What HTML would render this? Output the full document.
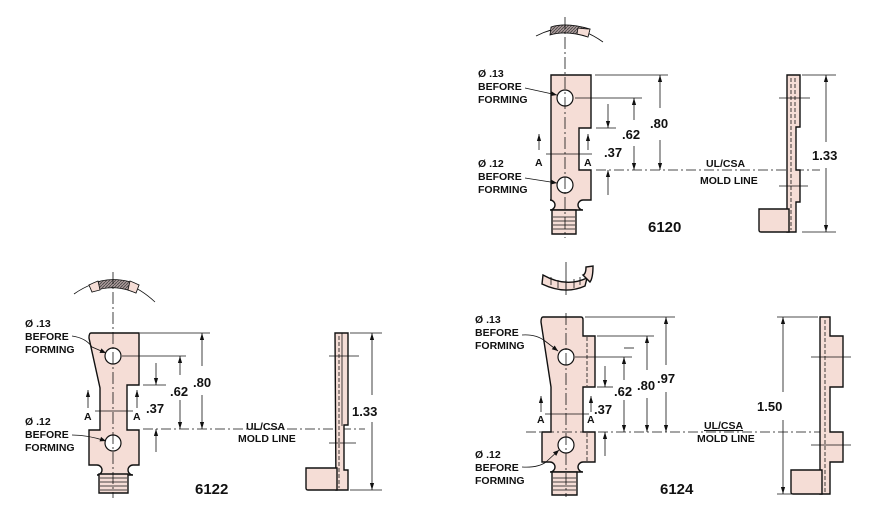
<!DOCTYPE html>
<html><head><meta charset="utf-8"><style>
html,body{margin:0;padding:0;background:#fff}
svg{display:block}
text{font-family:"Liberation Sans",sans-serif;font-weight:bold;fill:#111}
.l{font-size:10.5px}
.d{font-size:13px}
.n{font-size:15px}
.p{fill:#f5ddd6;stroke:#111;stroke-width:1.4}
.t{stroke:#111;stroke-width:0.8;fill:none}
.c{stroke:#111;stroke-width:0.7;fill:none;stroke-dasharray:10 3 2 3}
.h{fill:#fff;stroke:#111;stroke-width:1.2}
</style></head><body>
<svg width="870" height="523" viewBox="0 0 870 523">
<defs>
<marker id="a" viewBox="0 0 10 10" refX="10" refY="5" markerWidth="7" markerHeight="9" orient="auto-start-reverse" markerUnits="userSpaceOnUse"><path d="M0,2 L10,5 L0,8z" fill="#111"/></marker>
<marker id="b" viewBox="0 0 10 10" refX="10" refY="5" markerWidth="12" markerHeight="6" orient="auto" markerUnits="userSpaceOnUse"><path d="M0,1 L10,5 L0,9z" fill="#111"/></marker>
<pattern id="hat" width="3" height="3" patternUnits="userSpaceOnUse"><rect width="3" height="3" fill="#a99"/><path d="M0,3L3,0" stroke="#444" stroke-width="0.8"/></pattern>
</defs>

<!-- ========== 6120 ========== -->
<path d="M536,36 Q570,18 603,42" class="t"/>
<path d="M551,27 Q566,22 590,29 L588,37 Q566,30 550,35z" fill="url(#hat)" stroke="#111" stroke-width="0.8"/>
<path d="M578,28 Q585,29 590,29 L588,37 Q583,35 577,34z" fill="#f5ddd6" stroke="#111" stroke-width="0.8"/>
<path d="M551,75 h40 v53 h-12 v42 h12 v30 h-8 a5,5 0 0 0 0,10 h-33 a5,5 0 0 0 0,-10 h1 z" class="p"/>
<path d="M552,210 h24 v24 h-24z" class="p"/>
<path d="M553,217h22M553,221h22M553,225h22M553,229h22" class="t"/>
<circle cx="565" cy="98" r="8" class="h"/><circle cx="565" cy="185" r="8" class="h"/>
<line x1="565" y1="17" x2="565" y2="238" class="t" stroke-dasharray="12 3 2 3"/>
<line x1="546" y1="154" x2="592" y2="154" class="t"/>
<line x1="595" y1="75" x2="668" y2="75" class="t"/>
<line x1="575" y1="98" x2="642" y2="98" class="t"/>
<line x1="596" y1="128" x2="616" y2="128" class="t"/>
<line x1="596" y1="170" x2="820" y2="170" class="c"/>
<line x1="660" y1="108" x2="660" y2="75" class="t" marker-end="url(#a)"/>
<line x1="660" y1="140" x2="660" y2="170" class="t" marker-end="url(#a)"/>
<line x1="634" y1="120" x2="634" y2="98" class="t" marker-end="url(#a)"/>
<line x1="634" y1="146" x2="634" y2="170" class="t" marker-end="url(#a)"/>
<line x1="608" y1="104" x2="608" y2="128" class="t" marker-end="url(#a)"/>
<line x1="608" y1="195" x2="608" y2="170" class="t" marker-end="url(#a)"/>
<line x1="539" y1="150" x2="539" y2="134" class="t" marker-end="url(#a)"/>
<line x1="588" y1="150" x2="588" y2="134" class="t" marker-end="url(#a)"/>
<text x="535" y="166" class="l">A</text><text x="584" y="166" class="l">A</text>
<text x="650" y="128" class="d">.80</text><text x="622" y="139" class="d">.62</text><text x="604" y="157" class="d">.37</text>
<text x="706" y="167" class="l">UL/CSA</text><text x="700" y="184" class="l">MOLD LINE</text>
<text x="478" y="77" class="l">Ø .13</text><text x="478" y="90" class="l">BEFORE</text><text x="478" y="103" class="l">FORMING</text>
<text x="478" y="167" class="l">Ø .12</text><text x="478" y="180" class="l">BEFORE</text><text x="478" y="193" class="l">FORMING</text>
<line x1="525" y1="88" x2="557" y2="95" class="t" marker-end="url(#b)"/>
<line x1="525" y1="178" x2="557" y2="183" class="t" marker-end="url(#b)"/>
<text x="648" y="232" class="n">6120</text>
<!-- side -->
<path d="M787,75 h13 v52 h-4 v43 h4 v32 h-4 v30 h-9z" class="p"/>
<path d="M759,209 h30 v23 h-28 q-2,0 -2,-2z" class="p"/>
<line x1="791" y1="78" x2="791" y2="230" class="t" stroke-dasharray="4 2"/>
<line x1="795" y1="78" x2="795" y2="125" class="t" stroke-dasharray="4 2"/>
<line x1="779" y1="98" x2="810" y2="98" class="t"/><line x1="779" y1="186" x2="808" y2="186" class="t"/>
<line x1="802" y1="75" x2="836" y2="75" class="t"/><line x1="802" y1="232" x2="836" y2="232" class="t"/>
<line x1="826" y1="142" x2="826" y2="75" class="t" marker-end="url(#a)"/>
<line x1="826" y1="168" x2="826" y2="232" class="t" marker-end="url(#a)"/>
<text x="812" y="160" class="d">1.33</text>

<!-- ========== 6122 ========== -->
<path d="M74,294 Q115,265 155,302" class="t"/>
<path d="M89,285 Q113,274 139,285 L136,293 Q113,283 92,292z" fill="url(#hat)" stroke="#111" stroke-width="0.8"/>
<path d="M89,285 Q93,283 98,281 L100,290 Q96,291 92,292z M130,281 Q135,283 139,285 L136,293 Q131,291 128,290z" fill="#f5ddd6" stroke="#111" stroke-width="0.8"/>
<path d="M91,333 h48 v52 h-12 v45 h12 v35 h-6 a5,5 0 0 0 0,10 h-36 a5,5 0 0 0 0,-10 h-8 v-35 h11 v-42 l-11,-50 q0,-5 2,-5z" class="p"/>
<path d="M99,474 h29 v19 h-29z" class="p"/>
<path d="M100,478h27M100,482h27M100,486h27M100,490h27" class="t"/>
<circle cx="113" cy="356" r="8" class="h"/><circle cx="113" cy="443" r="8" class="h"/>
<line x1="113" y1="272" x2="113" y2="498" class="t" stroke-dasharray="12 3 2 3"/>
<line x1="95" y1="411" x2="133" y2="411" class="t"/>
<line x1="140" y1="333" x2="210" y2="333" class="t"/>
<line x1="122" y1="356" x2="186" y2="356" class="t"/>
<line x1="143" y1="385" x2="166" y2="385" class="t"/>
<line x1="143" y1="429" x2="365" y2="429" class="c"/>
<line x1="202" y1="366" x2="202" y2="333" class="t" marker-end="url(#a)"/>
<line x1="202" y1="395" x2="202" y2="429" class="t" marker-end="url(#a)"/>
<line x1="180" y1="375" x2="180" y2="356" class="t" marker-end="url(#a)"/>
<line x1="180" y1="400" x2="180" y2="429" class="t" marker-end="url(#a)"/>
<line x1="156" y1="363" x2="156" y2="385" class="t" marker-end="url(#a)"/>
<line x1="156" y1="452" x2="156" y2="429" class="t" marker-end="url(#a)"/>
<line x1="88" y1="408" x2="88" y2="390" class="t" marker-end="url(#a)"/>
<line x1="137" y1="408" x2="137" y2="390" class="t" marker-end="url(#a)"/>
<text x="84" y="420" class="l">A</text><text x="133" y="420" class="l">A</text>
<text x="193" y="387" class="d">.80</text><text x="170" y="396" class="d">.62</text><text x="146" y="413" class="d">.37</text>
<text x="246" y="430" class="l">UL/CSA</text><text x="238" y="442" class="l">MOLD LINE</text>
<text x="25" y="327" class="l">Ø .13</text><text x="25" y="340" class="l">BEFORE</text><text x="25" y="353" class="l">FORMING</text>
<text x="25" y="425" class="l">Ø .12</text><text x="25" y="438" class="l">BEFORE</text><text x="25" y="451" class="l">FORMING</text>
<path d="M72,336 Q86,338 92,347 L106,353" class="t" marker-end="url(#b)"/>
<path d="M72,435 Q88,435 106,441" class="t" marker-end="url(#b)"/>
<text x="195" y="494" class="n">6122</text>
<!-- side -->
<path d="M335,333 h13 v92 h-4 v45 h4 v20 h-12z" class="p"/>
<path d="M342,333 v93" class="t"/>
<path d="M306,468 h31 v22 h-29 q-2,0 -2,-2z" class="p"/>
<line x1="339" y1="336" x2="339" y2="488" class="t" stroke-dasharray="4 2"/>
<line x1="329" y1="356" x2="359" y2="356" class="t"/><line x1="329" y1="443" x2="356" y2="443" class="t"/>
<line x1="350" y1="333" x2="382" y2="333" class="t"/><line x1="350" y1="490" x2="382" y2="490" class="t"/>
<line x1="372" y1="395" x2="372" y2="333" class="t" marker-end="url(#a)"/>
<line x1="372" y1="422" x2="372" y2="490" class="t" marker-end="url(#a)"/>
<text x="352" y="416" class="d">1.33</text>

<!-- ========== 6124 ========== -->
<path d="M543,275 Q566,288 587,278 L585,286 Q565,295 542,284z" class="p" stroke-width="1"/>
<path d="M583,275 Q586,274 586,267 L593,266 Q593,278 590,282z" class="p" stroke-width="1"/>
<path d="M551,277v8M558,280v8M566,280v9M574,279v9M580,277v8" class="t"/>
<line x1="566" y1="262" x2="566" y2="295" class="t"/>
<path d="M544,317 h37 q2,0 2,3 v16 h12 v51 h-12 v45 h12 v30 h-12 a5,5 0 0 0 0,10 h-33 a5,5 0 0 0 0,-10 h-8 v-30 h9 v-45 l-10,-65 q0,-5 2,-5z" class="p"/>
<path d="M552,472 h25 v23 h-25z" class="p"/>
<path d="M553,478h23M553,482h23M553,486h23M553,490h23" class="t"/>
<line x1="587" y1="337" x2="587" y2="386" class="t" stroke-dasharray="4 2"/>
<line x1="587" y1="433" x2="587" y2="461" class="t" stroke-dasharray="4 2"/>
<circle cx="566" cy="357" r="8" class="h"/><circle cx="566" cy="445" r="8" class="h"/>
<line x1="566" y1="313" x2="566" y2="497" class="t" stroke-dasharray="12 3 2 3"/>
<line x1="545" y1="414" x2="589" y2="414" class="t"/>
<line x1="585" y1="317" x2="675" y2="317" class="t"/>
<line x1="597" y1="336" x2="654" y2="336" class="t"/>
<path d="M624,348 h10" class="t"/>
<line x1="575" y1="357" x2="632" y2="357" class="t"/>
<line x1="597" y1="387" x2="613" y2="387" class="t"/>
<line x1="526" y1="432" x2="820" y2="432" class="c"/>
<line x1="666" y1="365" x2="666" y2="317" class="t" marker-end="url(#a)"/>
<line x1="666" y1="392" x2="666" y2="432" class="t" marker-end="url(#a)"/>
<line x1="647" y1="370" x2="647" y2="336" class="t" marker-end="url(#a)"/>
<line x1="647" y1="398" x2="647" y2="432" class="t" marker-end="url(#a)"/>
<line x1="624" y1="380" x2="624" y2="357" class="t" marker-end="url(#a)"/>
<line x1="624" y1="400" x2="624" y2="432" class="t" marker-end="url(#a)"/>
<line x1="605" y1="366" x2="605" y2="387" class="t" marker-end="url(#a)"/>
<line x1="605" y1="456" x2="605" y2="432" class="t" marker-end="url(#a)"/>
<line x1="541" y1="412" x2="541" y2="396" class="t" marker-end="url(#a)"/>
<line x1="591" y1="412" x2="591" y2="396" class="t" marker-end="url(#a)"/>
<text x="537" y="423" class="l">A</text><text x="587" y="423" class="l">A</text>
<text x="657" y="383" class="d">.97</text><text x="637" y="390" class="d">.80</text><text x="614" y="396" class="d">.62</text><text x="594" y="414" class="d">.37</text>
<text x="704" y="429" class="l" text-decoration="underline">UL/CSA</text><text x="697" y="442" class="l">MOLD LINE</text>
<text x="475" y="323" class="l">Ø .13</text><text x="475" y="336" class="l">BEFORE</text><text x="475" y="349" class="l">FORMING</text>
<text x="475" y="458" class="l">Ø .12</text><text x="475" y="471" class="l">BEFORE</text><text x="475" y="484" class="l">FORMING</text>
<path d="M522,335 Q536,334 545,341 L558,351" class="t" marker-end="url(#b)"/>
<path d="M522,467 Q538,468 546,462 L559,450" class="t" marker-end="url(#b)"/>
<text x="660" y="494" class="n">6124</text>
<!-- side -->
<path d="M820,317 h10 v19 h13 v51 h-13 v45 h13 v30 h-13 v32 h-10z" class="p"/>
<path d="M791,470 h31 v24 h-29 q-2,0 -2,-2z" class="p"/>
<line x1="825" y1="320" x2="825" y2="492" class="t" stroke-dasharray="4 2"/>
<line x1="811" y1="357" x2="851" y2="357" class="t"/><line x1="811" y1="445" x2="851" y2="445" class="t"/>
<line x1="777" y1="317" x2="818" y2="317" class="t"/><line x1="777" y1="494" x2="818" y2="494" class="t"/>
<line x1="783" y1="392" x2="783" y2="317" class="t" marker-end="url(#a)"/>
<line x1="783" y1="420" x2="783" y2="494" class="t" marker-end="url(#a)"/>
<text x="757" y="411" class="d">1.50</text>
</svg>
</body></html>
